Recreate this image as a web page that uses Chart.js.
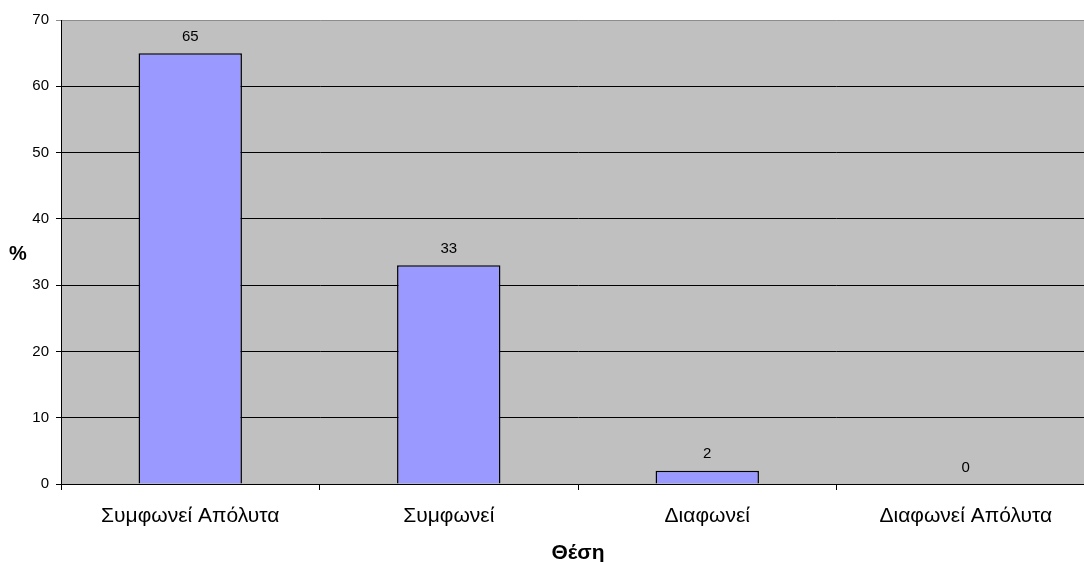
<!DOCTYPE html>
<html>
<head>
<meta charset="utf-8">
<script src="https://cdn.jsdelivr.net/npm/chart.js@4/dist/chart.umd.min.js"></script>
<style>
  html, body { margin: 0; padding: 0; background: #fff; }
  /* the last category runs slightly past the right edge of the page */
  #wrap { width: 1084px; height: 562px; position: relative; overflow: hidden; }
  #c { position: absolute; left: 0; top: 0; }
</style>
</head>
<body>
<div id="wrap"><canvas id="c" width="1096" height="562"></canvas></div>
<script>
// Responses per position (%)
const categories = ['Συμφωνεί Απόλυτα', 'Συμφωνεί', 'Διαφωνεί', 'Διαφωνεί Απόλυτα'];
const percentages = [65, 33, 2, 0];
const yTicks = [0, 10, 20, 30, 40, 50, 60, 70];
const xTitle = 'Θέση';
const yTitle = '%';

const FONT = '"Liberation Sans", Arial, sans-serif';

// Grey plot area behind the bars
const plotBackground = {
  id: 'plotBackground',
  beforeDraw(chart) {
    const { ctx, chartArea: a } = chart;
    ctx.save();
    ctx.fillStyle = '#c0c0c0';
    ctx.fillRect(a.left, a.top, a.right - a.left, a.bottom - a.top);
    ctx.restore();
  }
};

// Value labels above bars and the two axis titles
const labelsAndTitles = {
  id: 'labelsAndTitles',
  afterDatasetsDraw(chart) {
    const { ctx, chartArea: a } = chart;
    const meta = chart.getDatasetMeta(0);
    ctx.save();
    ctx.fillStyle = '#000';
    ctx.textAlign = 'center';
    ctx.textBaseline = 'middle';
    ctx.font = '15px ' + FONT;
    meta.data.forEach((bar, i) => {
      ctx.fillText(String(percentages[i]), bar.x, bar.y - 16.5);
    });
    ctx.font = 'bold 21px ' + FONT;
    ctx.fillText(xTitle, (a.left + a.right) / 2, 553);
    ctx.font = 'bold 20px ' + FONT;
    ctx.fillText(yTitle, 18, 254);
    ctx.restore();
  }
};

new Chart(document.getElementById('c'), {
  type: 'bar',
  data: {
    labels: categories,
    datasets: [{
      data: percentages,
      backgroundColor: '#9999ff',
      borderColor: '#000',
      borderWidth: 1.5,
      borderSkipped: 'bottom',
      barPercentage: 0.4,
      categoryPercentage: 1
    }]
  },
  options: {
    responsive: false,
    animation: false,
    events: [],
    layout: { padding: { top: 20, right: 1, left: 0, bottom: 0 } },
    plugins: { legend: { display: false }, tooltip: { enabled: false } },
    scales: {
      x: {
        offset: true,
        grid: {
          display: true,
          offset: true,
          drawOnChartArea: false,
          drawTicks: true,
          tickLength: 6,
          color: '#000'
        },
        border: { display: true, color: '#000', width: 1 },
        ticks: {
          color: '#000',
          font: { family: FONT, size: 21 },
          padding: 14,
          maxRotation: 0,
          autoSkip: false
        },
        afterFit(scale) { scale.height = 78; }
      },
      y: {
        min: 0,
        max: 70,
        afterBuildTicks(scale) { scale.ticks = yTicks.map(v => ({ value: v })); },
        grid: {
          color: ctx => (ctx.tick && ctx.tick.value === 70) ? '#8c8c8c' : '#000',
          lineWidth: 1,
          drawTicks: true,
          tickLength: 5
        },
        border: { display: true, color: '#000', width: 1 },
        ticks: {
          color: '#000',
          font: { family: FONT, size: 15 },
          padding: 7
        },
        afterFit(scale) { scale.width = 61; }
      }
    }
  },
  plugins: [plotBackground, labelsAndTitles]
});
</script>
</body>
</html>
